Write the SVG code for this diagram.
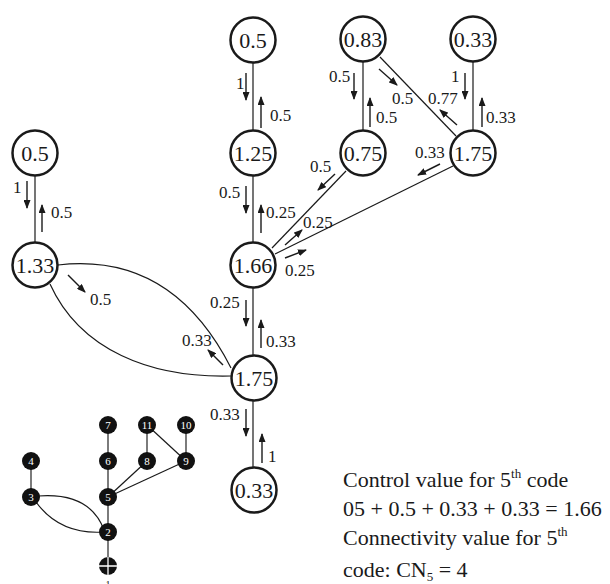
<svg xmlns="http://www.w3.org/2000/svg" width="610" height="584" viewBox="0 0 610 584" font-family="'Liberation Serif', 'DejaVu Serif', serif">
<style>
text{font-family:'Liberation Serif','DejaVu Serif',serif;fill:#1a1a1a}
.n circle{fill:#fff;stroke:#1a1a1a;stroke-width:2.5}
.n text{font-size:22px;text-anchor:middle}
.e{stroke:#1a1a1a;stroke-width:1.2;fill:none}
.a{stroke:#1a1a1a;stroke-width:1.4;fill:none;marker-end:url(#ah)}
.l{font-size:17px}
.s circle{fill:#111}
.s text{font-size:11px;fill:#fff;text-anchor:middle}
.se{stroke:#444;stroke-width:1.4;fill:none}
.sc{stroke:#1a1a1a;stroke-width:1.2;fill:none}
.t{font-size:22px}
.sup{font-size:13px}
</style>
<defs>
<marker id="ah" markerUnits="userSpaceOnUse" markerWidth="9" markerHeight="7" refX="8" refY="3.5" orient="auto">
<path d="M0,0 L9,3.5 L0,7 z" fill="#1a1a1a"/>
</marker>
</defs>
<rect width="610" height="584" fill="#fff"/>
<g id="connectors">
<line class="e" x1="253" y1="63" x2="253" y2="130"/>
<line class="e" x1="253" y1="176" x2="253" y2="242"/>
<line class="e" x1="35" y1="176" x2="35" y2="242"/>
<line class="e" x1="363" y1="62" x2="363" y2="130"/>
<line class="e" x1="473" y1="62" x2="473" y2="130"/>
<line class="e" x1="380" y1="57" x2="456" y2="136"/>
<line class="e" x1="346" y1="171" x2="272" y2="248"/>
<line class="e" x1="453" y1="166" x2="275" y2="254"/>
<line class="e" x1="253" y1="288" x2="253" y2="355"/>
<line class="e" x1="253" y1="401" x2="253" y2="467"/>
<path class="e" d="M58,265 Q172,252 231,368"/>
<path class="e" d="M50,284 C80,350 150,378 231,376"/>
<line class="a" x1="246" y1="73" x2="246" y2="100"/>
<line class="a" x1="261" y1="128" x2="261" y2="97"/>
<line class="a" x1="246" y1="186" x2="246" y2="213"/>
<line class="a" x1="261" y1="233" x2="261" y2="205"/>
<line class="a" x1="27" y1="181" x2="27" y2="208"/>
<line class="a" x1="42" y1="232" x2="42" y2="205"/>
<line class="a" x1="354" y1="73" x2="354" y2="99"/>
<line class="a" x1="370" y1="127" x2="370" y2="98"/>
<line class="a" x1="465" y1="73" x2="465" y2="99"/>
<line class="a" x1="482" y1="127" x2="482" y2="98"/>
<line class="a" x1="379" y1="69" x2="397" y2="85"/>
<line class="a" x1="457" y1="125" x2="440" y2="110"/>
<line class="a" x1="335" y1="174" x2="318" y2="190"/>
<line class="a" x1="440" y1="164" x2="418" y2="175"/>
<line class="a" x1="285" y1="245" x2="302" y2="230"/>
<line class="a" x1="285" y1="258" x2="306" y2="250"/>
<line class="a" x1="246" y1="300" x2="246" y2="326"/>
<line class="a" x1="261" y1="348" x2="261" y2="320"/>
<line class="a" x1="68" y1="275" x2="85" y2="292"/>
<line class="a" x1="223" y1="365" x2="208" y2="350"/>
<line class="a" x1="246" y1="409" x2="246" y2="436"/>
<line class="a" x1="262" y1="463" x2="262" y2="434"/>
</g>
<g id="edge-labels">
<text class="l" x="236" y="89">1</text>
<text class="l" x="270" y="121">0.5</text>
<text class="l" x="219" y="198">0.5</text>
<text class="l" x="266" y="218">0.25</text>
<text class="l" x="13" y="193">1</text>
<text class="l" x="51" y="218">0.5</text>
<text class="l" x="329" y="82">0.5</text>
<text class="l" x="376" y="123">0.5</text>
<text class="l" x="451" y="82">1</text>
<text class="l" x="486" y="123">0.33</text>
<text class="l" x="392" y="104">0.5</text>
<text class="l" x="428" y="104">0.77</text>
<text class="l" x="310" y="172">0.5</text>
<text class="l" x="415" y="158">0.33</text>
<text class="l" x="303" y="228">0.25</text>
<text class="l" x="285" y="276">0.25</text>
<text class="l" x="210" y="308">0.25</text>
<text class="l" x="266" y="347">0.33</text>
<text class="l" x="90" y="305">0.5</text>
<text class="l" x="182" y="346">0.33</text>
<text class="l" x="210" y="420">0.33</text>
<text class="l" x="268" y="462">1</text>
</g>
<g id="n-top05" class="n"><circle cx="253" cy="40" r="22.5"/><text x="253" y="48">0.5</text></g>
<g id="n-125" class="n"><circle cx="253" cy="153" r="22.5"/><text x="253" y="161">1.25</text></g>
<g id="n-166" class="n"><circle cx="253" cy="265" r="22.5"/><text x="253" y="273">1.66</text></g>
<g id="n-left05" class="n"><circle cx="35" cy="153" r="22.5"/><text x="35" y="161">0.5</text></g>
<g id="n-133" class="n"><circle cx="35" cy="265" r="22.5"/><text x="35" y="273">1.33</text></g>
<g id="n-083" class="n"><circle cx="363" cy="39" r="22.5"/><text x="363" y="47">0.83</text></g>
<g id="n-top033" class="n"><circle cx="473" cy="39" r="22.5"/><text x="473" y="47">0.33</text></g>
<g id="n-075" class="n"><circle cx="363" cy="153" r="22.5"/><text x="363" y="161">0.75</text></g>
<g id="n-175a" class="n"><circle cx="473" cy="153" r="22.5"/><text x="473" y="161">1.75</text></g>
<g id="n-175b" class="n"><circle cx="254" cy="378" r="22.5"/><text x="254" y="386">1.75</text></g>
<g id="n-bot033" class="n"><circle cx="254" cy="490" r="22.5"/><text x="254" y="498">0.33</text></g>
<g id="small-graph">
<g id="small-edges">
<line class="se" x1="108" y1="425" x2="108" y2="565"/>
<line class="se" x1="31" y1="461" x2="31" y2="497"/>
<line class="se" x1="147" y1="425" x2="147" y2="461"/>
<line class="se" x1="186" y1="425" x2="186" y2="461"/>
<line class="sc" x1="147" y1="425" x2="186" y2="461"/>
<line class="sc" x1="108" y1="497" x2="147" y2="461"/>
<line class="sc" x1="108" y1="497" x2="186" y2="461"/>
<path class="sc" d="M38,496 Q90,492 104,530"/>
<path class="sc" d="M36,502 Q60,535 104,532"/>
</g>
<g id="s7" class="s"><circle cx="108" cy="425" r="9"/><text x="108" y="429">7</text></g>
<g id="s11" class="s"><circle cx="147" cy="425" r="9"/><text x="147" y="429">11</text></g>
<g id="s10" class="s"><circle cx="186" cy="425" r="9"/><text x="186" y="429">10</text></g>
<g id="s4" class="s"><circle cx="31" cy="461" r="9"/><text x="31" y="465">4</text></g>
<g id="s6" class="s"><circle cx="108" cy="461" r="9"/><text x="108" y="465">6</text></g>
<g id="s8" class="s"><circle cx="147" cy="461" r="9"/><text x="147" y="465">8</text></g>
<g id="s9" class="s"><circle cx="186" cy="461" r="9"/><text x="186" y="465">9</text></g>
<g id="s3" class="s"><circle cx="31" cy="497" r="9"/><text x="31" y="501">3</text></g>
<g id="s5" class="s"><circle cx="108" cy="497" r="9"/><text x="108" y="501">5</text></g>
<g id="s2" class="s"><circle cx="108" cy="532" r="9"/><text x="108" y="536">2</text></g>
<g id="s1" class="s"><circle cx="108" cy="566" r="9"/><path d="M99,566 H117 M108,557 V575" stroke="#fff" stroke-width="1.3"/></g>
<text x="108" y="588" font-size="10" text-anchor="middle">1</text>
</g>
<g id="caption">
<text class="t" x="343" y="487">Control value for 5<tspan class="sup" dy="-9">th</tspan><tspan dy="9"> code</tspan></text>
<text class="t" x="343" y="516">05 + 0.5 + 0.33 + 0.33 = 1.66</text>
<text class="t" x="343" y="545">Connectivity value for 5<tspan class="sup" dy="-9">th</tspan></text>
<text class="t" x="343" y="577">code: CN<tspan class="sup" dy="4">5</tspan><tspan dy="-4"> = 4</tspan></text>
</g>
</svg>
